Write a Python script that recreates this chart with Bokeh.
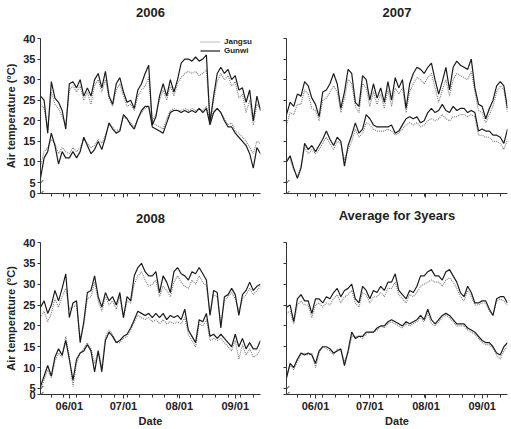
from bokeh.plotting import figure
from bokeh.layouts import column, row
from bokeh.models import Range1d, FixedTicker, Legend, LegendItem, Arrow, LinearAxis
from bokeh.embed import file_html
from bokeh.resources import INLINE

# ---------------- data ----------------
DAYS = list(range(1, 124, 2))          # days after 15 May (every 2nd day)
TICK_DAYS = [17, 47, 78, 109]
TICK_LABELS = ["06/01", "07/01", "08/01", "09/01"]
WEEK_DAYS = list(range(0, 124, 7))
Y_STEPS = [5, 10, 15, 20, 25, 30, 35, 40]
TITLES = ["2006", "2007", "2008", "Average for 3years"]

g2006_max = [26, 25, 17, 29.5, 25.5, 24.5, 22.5, 18, 29, 29.5,
             28, 30, 26, 28, 26, 30, 31.5, 28, 32, 26,
             24, 29, 30.5, 27, 24.5, 25, 23, 27.5, 29, 31.5,
             33.5, 19, 21, 26, 29, 26, 30, 27, 30, 34,
             35, 35, 34.5, 35.5, 34.5, 35, 36, 19.5, 26, 31.5,
             33, 31.5, 32.5, 30, 31, 27.5, 28, 24.5, 27.5, 20,
             26, 22.5]
j2006_max = [24, 23, 18, 27, 24, 23, 21, 19, 27.5, 28.5,
             27, 28.5, 25, 27, 24, 28.5, 30, 27, 30, 25.5,
             23.5, 27.5, 29, 26, 23.5, 24, 22.5, 26, 27.5, 28.5,
             30.5, 20, 21.5, 25, 27.5, 25, 28.5, 26, 29, 30.5,
             31.5, 32, 31.5, 32, 31, 31.5, 32.5, 20.5, 25, 29.5,
             31.5, 30, 31, 28.5, 29.5, 25.5, 26.5, 22, 25, 19,
             24, 23]
g2006_min = [6, 11, 12.5, 17, 14, 9.5, 12.5, 11, 11, 12.5,
             11, 12.5, 16, 14, 12, 13, 15, 13, 16, 19.5,
             18, 17, 17.5, 21.5, 20.5, 19, 18, 20.5, 22.5, 23.5,
             23.5, 18.5, 18, 17.5, 17, 19.5, 22, 22.5, 22.5, 22,
             22.5, 22, 22.5, 22, 23, 22, 23, 19, 22, 23,
             22, 20, 18.5, 18.5, 17, 16, 15, 14, 12, 8.5,
             13.5, 12]
j2006_min = [9, 12.5, 13.5, 15.5, 14.5, 12, 13.5, 12.5, 12, 13.5,
             12.5, 13.5, 15.5, 14.5, 13.5, 14, 15.5, 14.5, 16.5, 19,
             18.5, 17.5, 18, 21, 20.5, 19.5, 18.5, 20.5, 22, 23,
             23.5, 19.5, 19, 18.5, 18, 20.5, 22.5, 23, 22.5, 22.5,
             23, 22.5, 23, 22.5, 23, 22.5, 23.5, 20, 22.5, 23,
             22, 20.5, 19, 19.5, 17.5, 17, 16, 15, 13.5, 12,
             15, 14.5]

g2007_max = [21.5, 24.5, 23.5, 26.5, 26, 29.5, 28.5, 25.5, 24, 21,
             27, 27.5, 29, 31.5, 29, 23, 27, 32.5, 31.5, 24.5,
             23.5, 31, 30, 25, 29, 25.5, 28, 24.5, 29.5, 25,
             30.5, 28, 30, 23, 29, 31.5, 33, 32.5, 31.5, 33,
             34, 30, 26.5, 29.5, 33, 27.5, 33, 34.5, 33.5, 33,
             32.5, 35, 28, 24, 23.5, 20.5, 23, 25, 28.5, 29.5,
             28.5, 23]
j2007_max = [19, 22, 21.5, 24, 24, 27.5, 26.5, 23, 22.5, 20,
             25, 25.5, 27, 28.5, 27, 22, 25.5, 30, 29, 23.5,
             22, 29, 28, 23.5, 27, 24, 26.5, 23, 27.5, 23.5,
             28, 26.5, 28, 22, 27, 29, 30.5, 30, 29, 30.5,
             31.5, 28, 24.5, 27.5, 30, 26, 30, 31.5, 31, 30.5,
             30, 32, 27, 22.5, 22, 19.5, 21.5, 23.5, 27, 28.5,
             27.5, 22]
g2007_min = [10, 11.5, 8.5, 6, 8.5, 14.5, 13, 14, 12.5, 14,
             15.5, 17.5, 15.5, 14, 16, 15, 9, 14, 16.5, 19.5,
             17, 18, 21.5, 20.5, 19, 18.5, 18.5, 18.5, 18.5, 19,
             17, 17.5, 19, 20.5, 21, 20.5, 21, 19.5, 20, 22,
             23, 22, 22.5, 24, 22.5, 22, 23.5, 22.5, 23, 23,
             22, 22.5, 22, 17.5, 18, 17.5, 17.5, 16.5, 16.5, 16,
             14.5, 18]
j2007_min = [11, 10.5, 8, 6.5, 9, 13.5, 12, 13, 12, 13,
             14.5, 16, 14.5, 13, 15, 14.5, 10.5, 13, 15, 18,
             16, 17, 19.5, 19, 18, 17.5, 17.5, 17.5, 18, 17.5,
             16.5, 17, 18, 19, 19.5, 19, 19.5, 18.5, 19, 20,
             20.5, 20, 20.5, 21.5, 20.5, 20, 21, 21, 21.5, 21.5,
             21, 21.5, 21, 16.5, 16.5, 16, 16, 15, 15, 14.5,
             13, 15.5]

g2008_max = [24.5, 26, 23, 25, 28.5, 26, 29, 32.5, 22, 25.5,
             26, 16, 21, 28, 28.5, 32, 27, 24.5, 28, 26,
             27, 25, 28, 22, 27, 26, 32, 34, 35, 33,
             32, 32, 33, 28, 32, 30.5, 28, 33, 34, 32.5,
             32, 31, 33, 32.5, 34, 32.5, 31, 22.5, 28.5, 28,
             19.5, 27, 27.5, 29, 27.5, 22.5, 27.5, 28.5, 30.5, 28.5,
             29.5, 30]
j2008_max = [22, 23.5, 21, 23, 26.5, 24.5, 27, 29, 24, 24.5,
             25, 17, 20, 26.5, 27, 30.5, 26, 23.5, 27, 25,
             26, 24, 27, 22, 26, 25.5, 30, 32, 33, 31,
             29.5, 30, 31, 27, 29.5, 28.5, 27, 30.5, 32, 30.5,
             29.5, 29, 31, 30, 32, 30.5, 29.5, 23, 27.5, 27,
             20.5, 26, 27, 28, 26.5, 23.5, 26.5, 27.5, 29, 27.5,
             28.5, 29.5]
g2008_min = [5.5, 8, 10.5, 8, 12.5, 14.5, 13, 16.5, 12, 7,
             12, 13.5, 14, 15.5, 14, 9, 14, 9, 16.5, 18.5,
             17.5, 16, 16.5, 17.5, 18, 19.5, 21.5, 23.5, 23, 22.5,
             23, 22, 23, 22, 23, 21.5, 22.5, 22, 22.5, 21.5,
             24, 19, 17.5, 16, 21.5, 21, 23, 17.5, 18, 17,
             18, 17, 16, 15, 18, 15, 17, 14.5, 16, 14.5,
             14.5, 16.5]
j2008_min = [5, 7, 9.5, 7.5, 11.5, 13.5, 12.5, 17.5, 12.5, 5.5,
             11, 13.5, 14.5, 16, 14.5, 11, 14, 10, 17.5, 19,
             18, 16, 16, 17, 17.5, 19, 21, 22.5, 22, 21.5,
             22, 21, 21.5, 20.5, 21.5, 20.5, 21, 20.5, 21, 20.5,
             22, 18, 16.5, 15, 20.5, 20, 21.5, 16.5, 17, 16.5,
             17, 16, 15, 14, 16.5, 12, 15.5, 13, 14.5, 12.5,
             13, 14.5]

gavg_max = [24.5, 25, 21, 26.5, 27.5, 26, 26, 23, 26.5, 26.5,
            25.5, 27, 26.5, 28, 29, 27, 28.5, 29, 30, 26.5,
            25.5, 29.5, 28.5, 26.5, 28.5, 28, 29.5, 28.5, 30.5, 30.5,
            32.5, 28.5, 27.5, 26.5, 28.5, 28, 29.5, 32, 32, 33,
            33.5, 32, 32, 31, 33, 33.5, 32, 30.5, 28, 27,
            29.5, 28, 25.5, 25.5, 26, 26, 24, 22.5, 26.5, 27,
            27, 25.5]
javg_max = [23, 23.5, 20.5, 25, 26, 25, 25, 22, 25, 25.5,
            24.5, 25.5, 25, 26.5, 27.5, 25.5, 27, 27.5, 28.5, 25.5,
            24.5, 28, 27.5, 25.5, 27, 27, 28, 27, 29, 29,
            30.5, 27.5, 26.5, 25.5, 27.5, 27, 28, 29.5, 30, 30.5,
            31, 30.5, 30.5, 29.5, 31, 31.5, 30.5, 29, 27, 26,
            28.5, 27, 25, 25, 25.5, 25.5, 23.5, 22.5, 26, 26.5,
            26, 25]
gavg_min = [7.5, 11, 10, 12, 13.5, 13, 13.5, 13, 11, 14,
            15, 15, 14.5, 13.5, 14, 14.5, 10.5, 14, 18.5, 17,
            17.5, 17.5, 18.5, 18.5, 18.5, 19.5, 20, 20, 21, 21.5,
            21, 20.5, 20, 21, 20.5, 21, 21.5, 22.5, 21.5, 24,
            21.5, 20.5, 21.5, 22.5, 23, 22.5, 21.5, 20.5, 20.5, 20.5,
            19.5, 19, 18.5, 17.5, 16.5, 16, 16, 15, 13.5, 13,
            15, 16]
javg_min = [8.5, 10.5, 9.5, 11.5, 13, 13.5, 13, 13.5, 10, 13.5,
            15, 14.5, 14, 13, 14.5, 14, 11.5, 13.5, 17.5, 17.5,
            17.5, 17, 18, 18.5, 18.5, 19, 20, 19.5, 20.5, 21,
            20.5, 20, 19.5, 20.5, 20, 20.5, 21, 22, 21, 23,
            20.5, 20, 21, 22, 22.5, 22, 21, 20, 20, 20,
            19, 18.5, 18, 17, 16, 15.5, 15.5, 14.5, 13, 12,
            14, 15]

FONT = "Liberation Sans"
DARK = "#222222"


def panel(title, gmax, jmax, gmin, jmin, width, height, mbl, mbr, mbt, mbb,
          ylabels, xlabels, y0, title_gap, legend=False):
    p = figure(width=width, height=height, output_backend="svg",
               toolbar_location=None, x_range=Range1d(1, 123),
               y_range=Range1d(y0, 40),
               min_border_left=mbl, min_border_right=mbr,
               min_border_top=mbt, min_border_bottom=mbb)
    p.outline_line_color = None
    p.xgrid.visible = False
    p.ygrid.visible = False

    # panel title as the label of a bare axis above the frame
    ta = LinearAxis(ticker=FixedTicker(ticks=[]), axis_line_color=None,
                    major_tick_line_color=None, minor_tick_line_color=None,
                    major_label_standoff=0, axis_label=title,
                    axis_label_standoff=title_gap, axis_label_text_font=FONT,
                    axis_label_text_font_size="13px",
                    axis_label_text_font_style="bold",
                    axis_label_text_color=DARK)
    p.add_layout(ta, "above")

    rj1 = p.line(DAYS, jmax, line_color="#7a7a7a", line_width=1.1, line_dash="1 1")
    p.line(DAYS, jmin, line_color="#7a7a7a", line_width=1.1, line_dash="1 1")
    rg1 = p.line(DAYS, gmax, line_color="#1c1c1c", line_width=1.2)
    p.line(DAYS, gmin, line_color="#1c1c1c", line_width=1.2)

    xa = p.below[0]
    xa.ticker = FixedTicker(ticks=TICK_DAYS, minor_ticks=WEEK_DAYS)
    xa.major_tick_in = 0
    xa.major_tick_out = 4
    xa.minor_tick_in = 0
    xa.minor_tick_out = 3
    xa.axis_line_color = "#333333"
    xa.major_tick_line_color = "#333333"
    xa.minor_tick_line_color = "#333333"
    xa.major_label_standoff = 1
    xa.major_label_text_font = FONT
    xa.major_label_text_font_style = "bold"
    xa.major_label_text_color = DARK
    if xlabels:
        xa.major_label_overrides = dict(zip(TICK_DAYS, TICK_LABELS))
        xa.major_label_text_font_size = "11px"
        xa.axis_label = "Date"
        xa.axis_label_text_font = FONT
        xa.axis_label_text_font_size = "11px"
        xa.axis_label_text_font_style = "bold"
        xa.axis_label_text_color = DARK
        xa.axis_label_standoff = 0
    else:
        xa.major_label_overrides = {t: "" for t in TICK_DAYS}
        xa.major_label_text_font_size = "1px"

    ya = p.left[0]
    y_ticks = [y0] + Y_STEPS
    ya.ticker = FixedTicker(ticks=y_ticks)
    ya.major_tick_in = 0
    ya.major_tick_out = 3
    ya.minor_tick_line_color = None
    ya.axis_line_color = "#333333"
    ya.major_tick_line_color = "#333333"
    ya.major_label_standoff = 2
    ya.major_label_text_font = FONT
    ya.major_label_text_font_style = "bold"
    ya.major_label_text_color = DARK
    if ylabels:
        ov = {t: str(t) for t in Y_STEPS}
        ov[y0] = "0"
        ya.major_label_overrides = ov
        ya.major_label_text_font_size = "11px"
        ya.axis_label = "Air temperature (\u00b0C)"
        ya.axis_label_text_font = FONT
        ya.axis_label_text_font_size = "11px"
        ya.axis_label_text_font_style = "bold"
        ya.axis_label_text_color = DARK
        ya.axis_label_standoff = 3
    else:
        ya.major_label_overrides = {t: "" for t in y_ticks}
        ya.major_label_text_font_size = "1px"

    # axis-break marks
    for yb in (5.0, y0):
        p.add_layout(Arrow(end=None, x_start=1 - 1.4, y_start=yb - 0.8,
                           x_end=1 + 1.6, y_end=yb + 0.6,
                           line_color="#333333", line_width=1))

    if legend:
        lg = Legend(items=[LegendItem(label="Jangsu", renderers=[rj1]),
                           LegendItem(label="Gunwi", renderers=[rg1])],
                    location=(160, 138))
        lg.label_text_font = FONT
        lg.label_text_font_size = "8px"
        lg.label_text_font_style = "bold"
        lg.label_text_color = DARK
        lg.glyph_width = 20
        lg.glyph_height = 9
        lg.label_height = 9
        lg.label_standoff = 4
        lg.spacing = 0
        lg.padding = 0
        lg.margin = 0
        lg.border_line_color = None
        lg.background_fill_alpha = 0
        p.add_layout(lg)
    return p


p1 = panel(TITLES[0], g2006_max, j2006_max, g2006_min, j2006_min,
           263, 201, 40, 3, 38, 8, True, False, 2.33, 22, legend=True)
p2 = panel(TITLES[1], g2007_max, j2007_max, g2007_min, j2007_min,
           248, 201, 23, 4, 38, 8, False, False, 2.33, 22)
p3 = panel(TITLES[2], g2008_max, j2008_max, g2008_min, j2008_min,
           263, 228, 40, 3, 41, 31, True, True, 3.55, 20)
p4 = panel(TITLES[3], gavg_max, javg_max, gavg_min, javg_min,
           248, 228, 23, 4, 41, 31, False, True, 3.55, 20)

p = column(row(p1, p2), row(p3, p4))
open("out.html", "w").write(file_html(p, INLINE))
